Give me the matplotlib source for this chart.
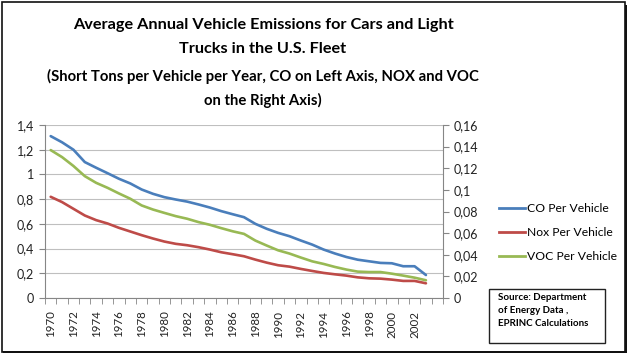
import matplotlib
matplotlib.use("Agg")
import matplotlib.pyplot as plt
from matplotlib.lines import Line2D
from matplotlib.patches import Rectangle

years = list(range(1970, 2004))
co = [1.31, 1.26, 1.20, 1.10, 1.054, 1.01, 0.965, 0.927, 0.878, 0.843, 0.816, 0.797,
      0.78, 0.757, 0.732, 0.703, 0.678, 0.654, 0.60, 0.56, 0.527, 0.50, 0.465, 0.432,
      0.392, 0.36, 0.332, 0.31, 0.297, 0.284, 0.281, 0.257, 0.257, 0.186]
nox = [0.0936, 0.0887, 0.0825, 0.0763, 0.072, 0.0689, 0.0649, 0.0615, 0.0581, 0.055,
       0.0522, 0.0501, 0.0488, 0.047, 0.0448, 0.0423, 0.0405, 0.0386, 0.0355, 0.0327,
       0.0303, 0.029, 0.0269, 0.025, 0.0232, 0.0219, 0.0207, 0.0191, 0.0182, 0.0179,
       0.017, 0.0158, 0.0158, 0.0136]
voc = [0.1368, 0.1303, 0.1221, 0.1127, 0.1065, 0.1019, 0.0967, 0.0918, 0.0856, 0.0818,
       0.0787, 0.0757, 0.0733, 0.0702, 0.0677, 0.0646, 0.0617, 0.0593, 0.0531, 0.0485,
       0.0441, 0.0411, 0.0374, 0.0339, 0.0315, 0.0287, 0.0263, 0.0244, 0.024, 0.024,
       0.0225, 0.0207, 0.0188, 0.0164]
left_ticks = [0, 0.2, 0.4, 0.6, 0.8, 1.0, 1.2, 1.4]
left_labels = ["0", "0,2", "0,4", "0,6", "0,8", "1", "1,2", "1,4"]
right_ticks = [0, 0.02, 0.04, 0.06, 0.08, 0.10, 0.12, 0.14, 0.16]
right_labels = ["0", "0,02", "0,04", "0,06", "0,08", "0,1", "0,12", "0,14", "0,16"]
series_names = ["CO Per Vehicle", "Nox Per Vehicle", "VOC Per Vehicle"]
title_lines = ["Average Annual Vehicle Emissions for Cars and Light",
               "Trucks in the U.S. Fleet"]
subtitle_lines = ["(Short Tons per Vehicle per Year, CO on Left Axis, NOX and VOC",
                  "on the Right Axis)"]
source_text = "Source: Department\nof Energy Data ,\nEPRINC Calculations"

plt.rcParams['font.family'] = ['Lato', 'DejaVu Sans']

c_blue = "#4A7EBB"
c_red = "#BE4B48"
c_green = "#98B954"
gray = "#868686"

fig = plt.figure(figsize=(6.28, 3.54), dpi=100)
ax = fig.add_axes([45/628, 1-298/354, 398/628, 173/354])
ax2 = ax.twinx()

x = list(range(len(years)))
ax.plot(x, co, color=c_blue, lw=1.9, solid_capstyle='round', zorder=3)
ax2.plot(x, nox, color=c_red, lw=1.9, solid_capstyle='round')
ax2.plot(x, voc, color=c_green, lw=1.9, solid_capstyle='round')

ax.set_xlim(-0.5, 34.5)
ax.set_ylim(0, 1.4)
ax2.set_ylim(0, 0.16)

ax.set_yticks(left_ticks)
ax.set_yticklabels(left_labels)
ax2.set_yticks(right_ticks)
ax2.set_yticklabels(right_labels)

ax.set_xticks(x[::2])
ax.set_xticklabels([str(y) for y in years[::2]], rotation=90)
ax.set_xticks([i - 0.5 for i in range(36)], minor=True)
ax.tick_params(axis='x', which='major', length=0, pad=9, labelsize=8.3, labelcolor='#222222')
ax.tick_params(axis='x', which='minor', length=4, color=gray, direction='out')
ax.tick_params(axis='y', length=4, color=gray, labelsize=9, labelcolor='#222222', pad=4)
ax2.tick_params(axis='y', length=4, color=gray, labelsize=9, labelcolor='#222222', pad=4)

ax.grid(axis='y', color='#BFBFBF', lw=0.8)
ax.set_axisbelow(True)
for a in (ax, ax2):
    a.spines['top'].set_visible(False)
    for s in ('left', 'right', 'bottom'):
        a.spines[s].set_color(gray)
        a.spines[s].set_linewidth(0.8)
ax.spines['right'].set_visible(False)
ax2.spines['left'].set_visible(False)
ax2.spines['bottom'].set_visible(False)

handles = [Line2D([], [], color=c, lw=2) for c in (c_blue, c_red, c_green)]
fig.legend(handles, series_names, loc='upper left', bbox_to_anchor=(494/628, 1-198/354),
           frameon=False, fontsize=8.7, handlelength=2.15, handletextpad=0.15,
           labelspacing=1.1, borderaxespad=0)

cx = 0.5*(74+452)/628
for txt, yc in zip(title_lines, (25, 49)):
    fig.text(cx, 1-yc/354, txt, ha='center', va='center', fontsize=11.7, fontweight='bold')
for txt, yc in zip(subtitle_lines, (76, 100)):
    fig.text(cx, 1-yc/354, txt, ha='center', va='center', fontsize=10.7, fontweight='bold')

fig.patches.append(Rectangle((489/628, 1-343/354), 116/628, 54/354,
                             transform=fig.transFigure, fill=False,
                             edgecolor='#222222', lw=1.0))
fig.text(498/628, 1-293/354, source_text, ha='left', va='top', fontsize=7,
         fontweight='bold', linespacing=1.55)

fig.patches.append(Rectangle((1.5/628, 2.5/354), 623/628, 350/354,
                             transform=fig.transFigure, fill=False,
                             edgecolor='#111111', lw=1.2))
fig.patches.append(Rectangle((3/628, 1/354), 623.5/628, 2/354, transform=fig.transFigure,
                             facecolor='#111111', edgecolor='none'))
fig.patches.append(Rectangle((624.5/628, 1/354), 2/628, 348/354, transform=fig.transFigure,
                             facecolor='#111111', edgecolor='none'))

fig.savefig("out.png", dpi=100)
